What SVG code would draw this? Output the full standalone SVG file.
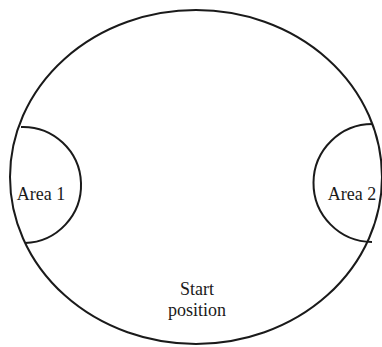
<svg xmlns="http://www.w3.org/2000/svg" width="382" height="347" viewBox="0 0 382 347">
<style>
.ln{fill:none;stroke:#1a1a1a;stroke-width:2}
.t{font-family:"Liberation Serif","Times New Roman",serif;font-size:18px;fill:#1a1a1a;text-anchor:middle}
</style>
<rect width="382" height="347" fill="#fff"/>
<g id="field">
<ellipse class="ln" cx="196" cy="177" rx="186" ry="167"/>
</g>
<g id="area1">
<path class="ln" d="M21 127 A58 58 0 0 1 25 243"/>
<text class="t" x="41" y="200">Area 1</text>
</g>
<g id="area2">
<path class="ln" d="M373 124 A59 59 0 0 0 372 242"/>
<text class="t" x="352" y="200">Area 2</text>
</g>
<g id="start">
<text class="t" x="197" y="295">Start</text>
<text class="t" x="197" y="316">position</text>
</g>
<g id="connectors"/>
</svg>
